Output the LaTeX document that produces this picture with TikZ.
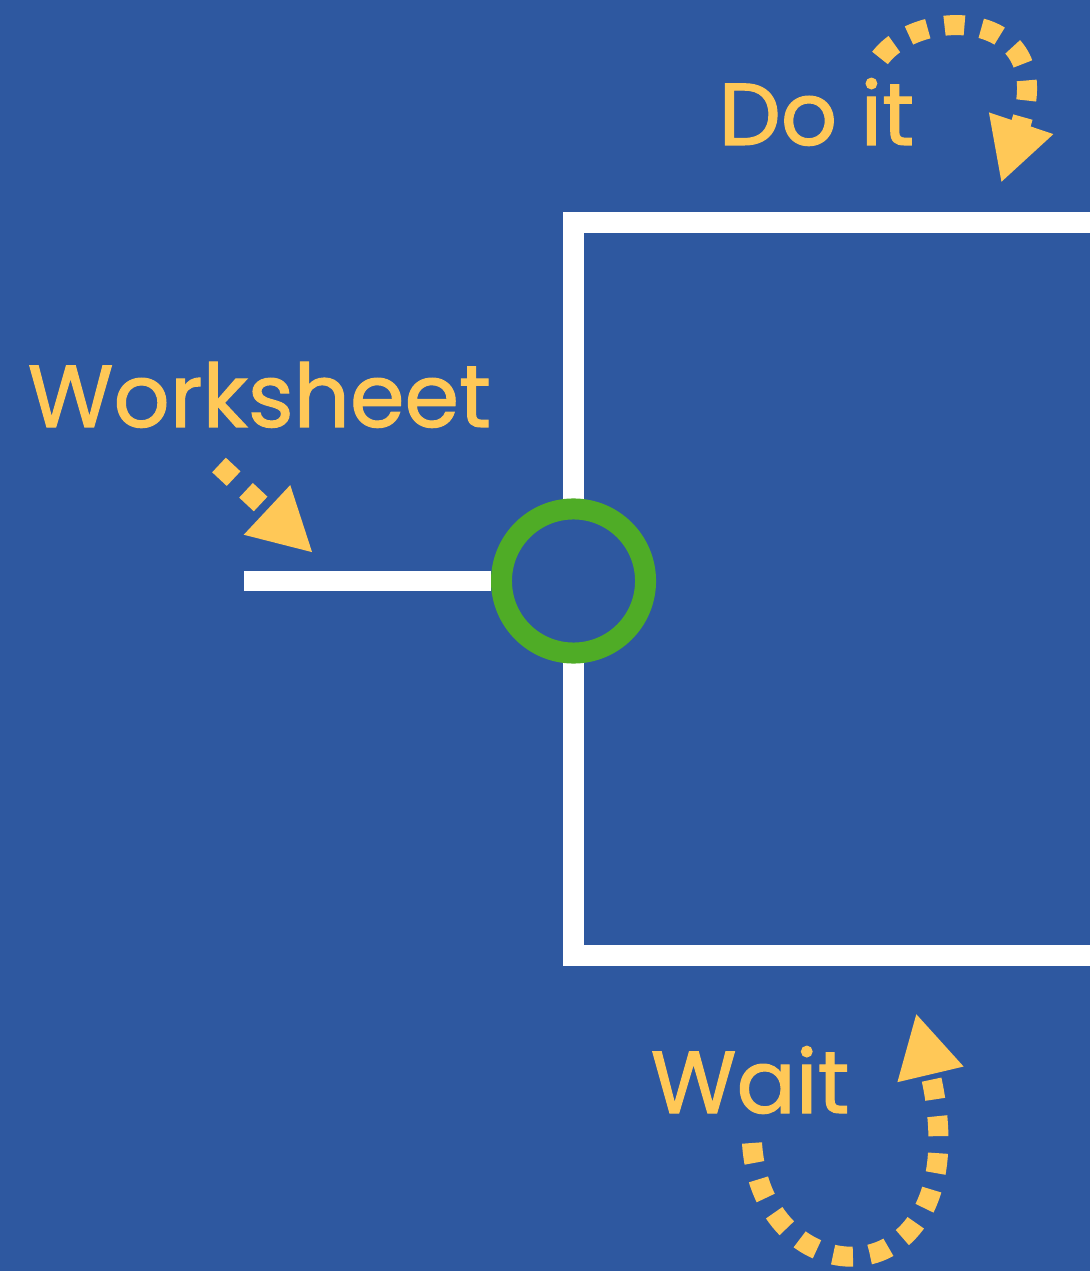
\documentclass[tikz,border=0pt]{standalone}
\usepackage{fontspec}
\setmainfont{Poppins}[FakeBold=1.2]
\usetikzlibrary{arrows.meta}
\definecolor{bgblue}{HTML}{2E58A0}
\definecolor{signyellow}{HTML}{FFC857}
\definecolor{hubgreen}{HTML}{4FAC26}

\begin{document}
\begin{tikzpicture}[x=0.01cm,y=-0.01cm]
\tikzstyle{lbl}=[text=signyellow,inner sep=0pt,anchor=base west,font=\fontsize{25}{30}\selectfont]
\tikzstyle{wire}=[draw=white,line width=2.1mm]
\tikzstyle{hop}=[draw=signyellow,line width=2mm,dash pattern=on 2mm off 1.7mm,
  -{Triangle[length=6.3mm,width=6.3mm,fill=signyellow]}]
\tikzstyle{hub}=[circle,draw=hubgreen,fill=bgblue,line width=2.1mm,minimum size=1.44cm,inner sep=0pt]
\fill[bgblue] (0,0) rectangle (1090,1271);
\useasboundingbox (0,0) rectangle (1090,1271);
% open box, right side runs off the page
\coordinate (tr) at (1090,222.5);
\coordinate (tl) at (573.5,222.5);
\coordinate (bl) at (573.5,955);
\coordinate (br) at (1090,955);
\draw[wire] (tr) -- (tl) -- (bl) -- (br);
\node[hub] (gate) at (573.5,581) {};
\coordinate (feed) at (244,581);
\draw[wire,line width=2mm] (feed) -- (gate.west);
% labels
\node[lbl] (ws) at (27,427) {Worksheet};
\node[lbl] (doit) at (718,145) {Do it};
\node[lbl] (wait) at (650,1113) {Wait};
% dotted arrows
\coordinate (ws0) at (219,465);
\coordinate (ws1) at (313,553);
\draw[hop] (ws0) -- (ws1);
\coordinate (doit0) at (880,58);
\coordinate (doit1) at (1001,183);
\draw[hop] (doit0) .. controls (920,5) and (1060,8) .. (doit1);
\coordinate (wait0) at (752,1143);
\coordinate (wait1) at (916,1013);
\draw[hop] (wait0) .. controls (762,1305) and (985,1305) .. (wait1);
\end{tikzpicture}
\end{document}
